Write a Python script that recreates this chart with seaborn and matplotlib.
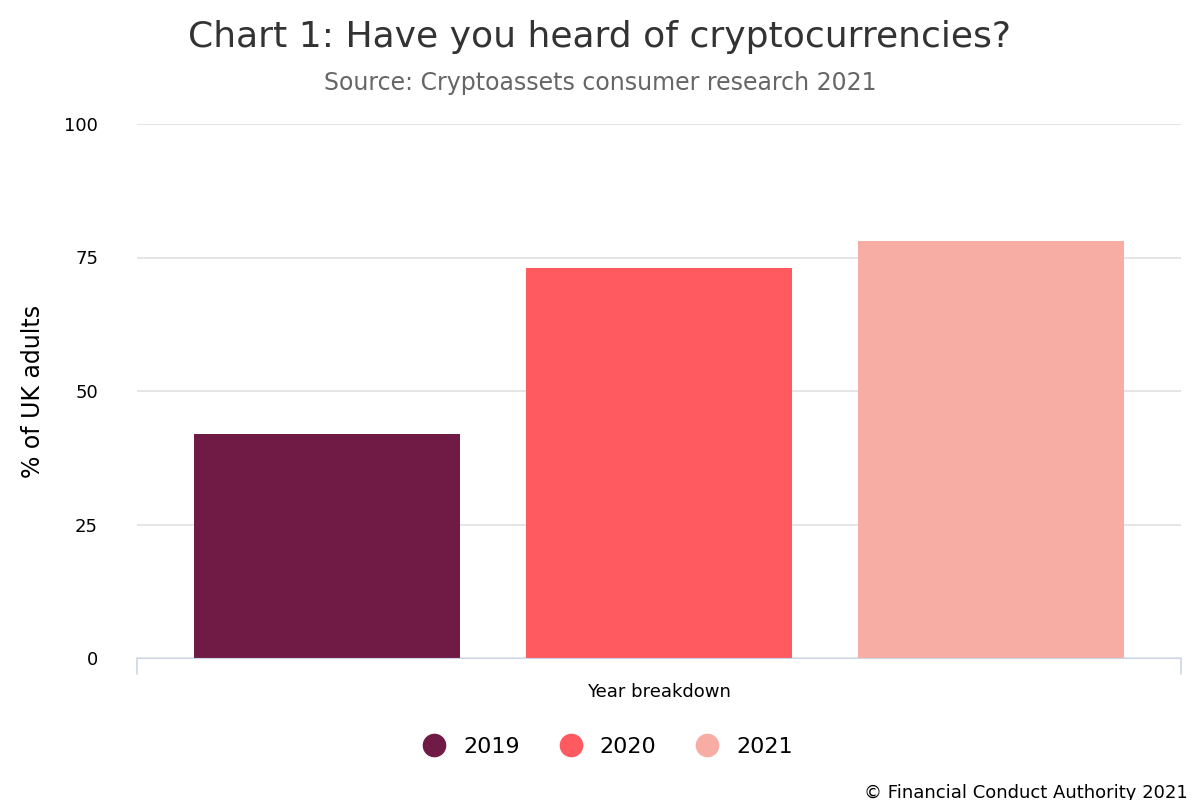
import pandas as pd
import seaborn as sns
import matplotlib
matplotlib.use('Agg')
import matplotlib.pyplot as plt
from matplotlib.lines import Line2D

# data
years = ['2019', '2020', '2021']
heard_pct = [42, 73, 78]
colours = ['#701b45', '#ff5a5f', '#f7ada4']

df = pd.DataFrame({'group': ['Year breakdown'] * 3, 'year': years, 'pct': heard_pct})

sns.set_style('white')
plt.rcParams['font.family'] = ['DejaVu Sans']

fig = plt.figure(figsize=(12, 8), dpi=100)
ax = fig.add_axes([137/1200, 1 - 658/800, 1044/1200, 534/800])

sns.barplot(data=df, x='group', y='pct', hue='year', palette=colours,
            width=0.953, gap=0.198, saturation=1, legend=False, linewidth=0, ax=ax)

ax.set_xlim(-0.5, 0.5)
ax.set_ylim(0, 100)
ax.set_yticks([0, 25, 50, 75, 100])
ax.yaxis.grid(True, color='#e0e0e0', linewidth=1.2)
ax.set_axisbelow(True)
for s in ['top', 'right', 'left']:
    ax.spines[s].set_visible(False)
ax.spines['bottom'].set_color('#ccd6eb')
ax.tick_params(axis='y', length=0, labelsize=13, pad=28, labelcolor='black')
ax.tick_params(axis='x', length=0, labelsize=13, pad=18, labelcolor='black')
ax.set_xlabel('')
ax.set_ylabel('% of UK adults', fontsize=17, labelpad=14, color='black')
# little end ticks on the x axis like the original
ax.plot([-0.5, -0.5], [0, -3], color='#ccd6eb', clip_on=False, lw=1.2)
ax.plot([0.5, 0.5], [0, -3], color='#ccd6eb', clip_on=False, lw=1.2)

fig.text(0.5, 1 - 37/800, 'Chart 1: Have you heard of cryptocurrencies?',
         ha='center', va='center', fontsize=26, color='#333333')
fig.text(0.5, 1 - 83/800, 'Source: Cryptoassets consumer research 2021',
         ha='center', va='center', fontsize=17, color='#666666')

handles = [Line2D([], [], marker='o', linestyle='', markersize=16, color=c) for c in colours]
fig.legend(handles, years, loc='center', bbox_to_anchor=(0.502, 1 - 747/800),
           ncol=3, frameon=False, fontsize=16, handletextpad=0.3, columnspacing=1.3,
           labelcolor='black')

fig.text(0.99, 1 - 793/800, '© Financial Conduct Authority 2021',
         ha='right', va='center', fontsize=13, color='black')

fig.savefig('out.png', dpi=100)
